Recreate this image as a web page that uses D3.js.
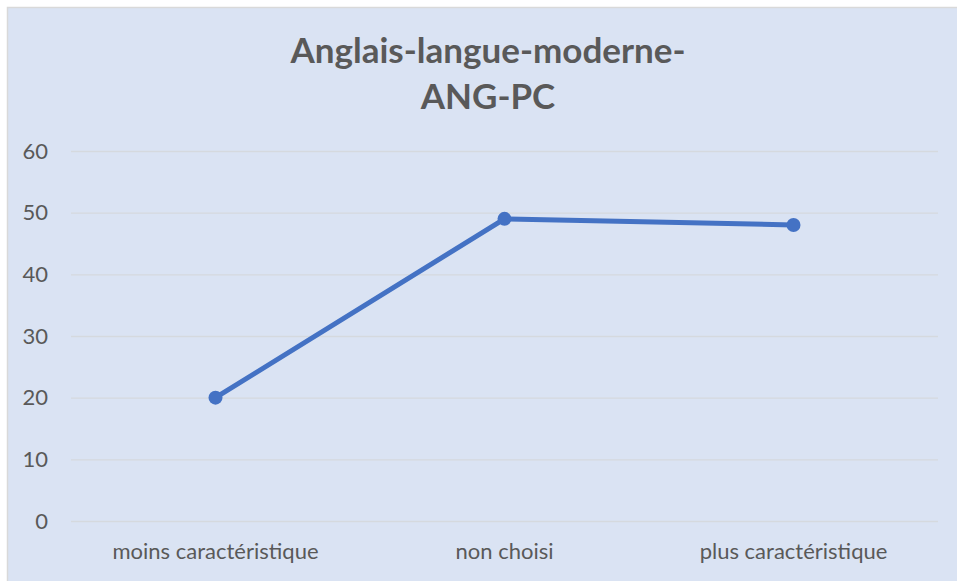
<!DOCTYPE html>
<html><head><meta charset="utf-8">
<script src="https://cdn.jsdelivr.net/npm/d3@7"></script>
<style>body{margin:0;background:#fff;}svg{display:block;}</style>
</head><body>
<script>
const categories = ["moins caractéristique", "non choisi", "plus caractéristique"];
const values = [20, 49, 48];
const yTicks = [0, 10, 20, 30, 40, 50, 60];
const titleLines = ["Anglais-langue-moderne-", "ANG-PC"];

const W = 957, H = 581;
const svg = d3.select("body").append("svg").attr("width", W).attr("height", H);
svg.append("rect").attr("x", 7.5).attr("y", 7.5).attr("width", W).attr("height", H)
  .attr("fill", "#dae3f3").attr("stroke", "#d9d9d9").attr("stroke-width", 1.5);

const x = d3.scaleBand().domain(categories).range([71, 938]);
const y = d3.scaleLinear().domain([0, 60]).range([521, 151]);
const font = "Lato, 'Open Sans', sans-serif";

const t = svg.append("text").attr("text-anchor", "middle").attr("fill", "#595959")
  .attr("font-family", font).attr("font-weight", "bold").attr("font-size", 35);
titleLines.forEach((l, i) => t.append("tspan").attr("x", 488).attr("y", 63 + i * 46).text(l));

const yAxis = svg.append("g").attr("transform", "translate(71,0)")
  .call(d3.axisLeft(y).tickValues(yTicks).tickSize(-(938 - 71)).tickFormat(d3.format("d")));
yAxis.select(".domain").remove();
yAxis.selectAll(".tick line").attr("stroke", "#d5d9de").attr("stroke-width", 1.3);
yAxis.selectAll(".tick text").attr("x", -23).attr("fill", "#595959")
  .attr("font-family", font).attr("font-size", 22);

const xAxis = svg.append("g").attr("transform", "translate(0,521)")
  .call(d3.axisBottom(x).tickSize(0));
xAxis.select(".domain").remove();
xAxis.selectAll(".tick text").attr("y", 38).attr("dy", 0).attr("fill", "#595959")
  .attr("font-family", font).attr("font-size", 22);

const line = d3.line().x((d, i) => x(categories[i]) + x.bandwidth() / 2).y(d => y(d));
svg.append("path").datum(values).attr("d", line).attr("fill", "none")
  .attr("stroke", "#4472c4").attr("stroke-width", 5).attr("stroke-linejoin", "round");
svg.selectAll("circle.pt").data(values).enter().append("circle").attr("class", "pt")
  .attr("cx", (d, i) => x(categories[i]) + x.bandwidth() / 2).attr("cy", d => y(d))
  .attr("r", 7).attr("fill", "#4472c4");
</script>
</body></html>
